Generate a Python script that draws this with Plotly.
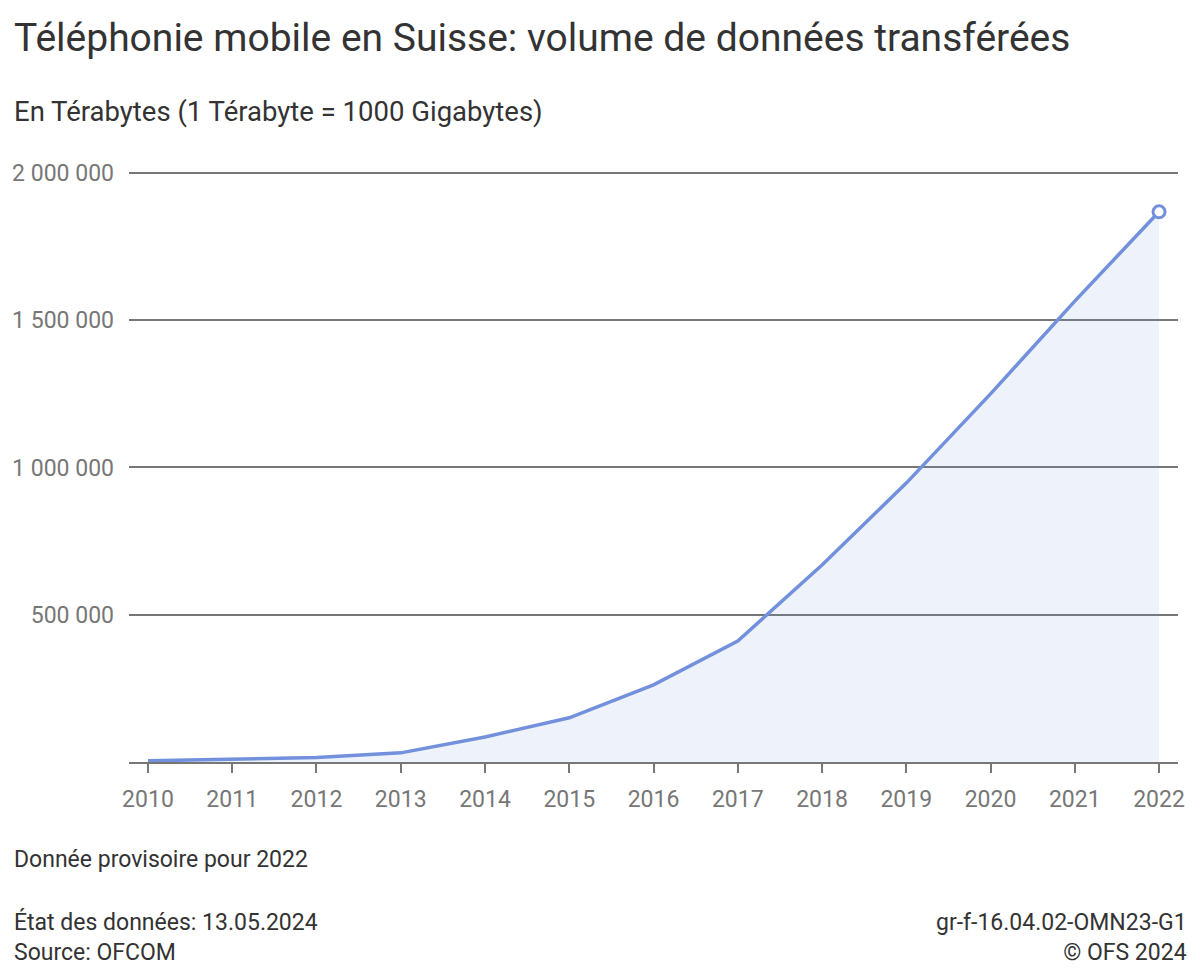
import plotly.graph_objects as go

years = [2010, 2011, 2012, 2013, 2014, 2015, 2016, 2017, 2018, 2019, 2020, 2021, 2022]
volume_tb = [4000, 9000, 15000, 31000, 85000, 150000, 262000, 411000, 669000, 947000, 1250000, 1565000, 1868000]
y_ticks = [500000, 1000000, 1500000, 2000000]
y_tick_labels = ["500 000", "1 000 000", "1 500 000", "2 000 000"]

title = "Téléphonie mobile en Suisse: volume de données transférées"
subtitle = "En Térabytes (1 Térabyte = 1000 Gigabytes)"
note = "Donnée provisoire pour 2022"
footer_left = "État des données: 13.05.2024<br>Source: OFCOM"
footer_right = "gr-f-16.04.02-OMN23-G1<br>© OFS 2024"

line_color = "#7390dc"
font = "Roboto, Arial, sans-serif"

L, R, T, B = 127, 22, 170, 218
W, H = 1200, 980
plot_h = H - T - B
plot_w = W - L - R

fig = go.Figure()
fig.add_trace(go.Scatter(
    x=years, y=volume_tb, mode="lines",
    line=dict(color=line_color, width=3.5),
    fill="tozeroy", fillcolor="rgba(115,144,220,0.12)",
    hoverinfo="x+y", showlegend=False,
))
fig.add_trace(go.Scatter(
    x=[years[-1]], y=[volume_tb[-1]], mode="markers",
    marker=dict(symbol="circle", size=12, color="white", line=dict(width=3, color=line_color)),
    showlegend=False, hoverinfo="skip",
))

fig.update_layout(
    width=W, height=H,
    margin=dict(l=L, r=R, t=T, b=B),
    paper_bgcolor="white", plot_bgcolor="white",
    font=dict(family=font, color="#333333"),
    xaxis=dict(
        range=[2009.775, 2022.225],
        tickvals=years, ticktext=[str(y) for y in years],
        tickfont=dict(size=23, color="#777777"),
        showgrid=False, zeroline=False,
        showline=True, linecolor="#777777", linewidth=1.5,
        ticks="outside", ticklen=9, tickwidth=1.5, tickcolor="#777777",
        ticklabelstandoff=7,
    ),
    yaxis=dict(
        range=[0, 2010000],
        tickvals=y_ticks, ticktext=y_tick_labels,
        tickfont=dict(size=23, color="#777777"),
        showgrid=True, gridcolor="#777777", gridwidth=1.5,
        zeroline=False, ticks="", ticklabelstandoff=14,
    ),
)

def px(x):
    return (x - L) / plot_w

def py(y):
    return (H - B - y) / plot_h

ann = [
    dict(text=title, x=px(10), y=py(38), size=39, anchor="left"),
    dict(text=subtitle, x=px(10), y=py(111), size=27.5, anchor="left"),
    dict(text=note, x=px(10), y=py(859), size=23, anchor="left"),
    dict(text=footer_left, x=px(10), y=py(937), size=23, anchor="left"),
    dict(text=footer_right, x=px(1189), y=py(937), size=23, anchor="right"),
]
for a in ann:
    fig.add_annotation(
        text=a["text"], x=a["x"], y=a["y"], xref="paper", yref="paper",
        xanchor=a["anchor"], yanchor="middle", showarrow=False,
        align=a["anchor"], font=dict(size=a["size"], color="#333333", family=font),
    )

fig.write_html("out.html")
